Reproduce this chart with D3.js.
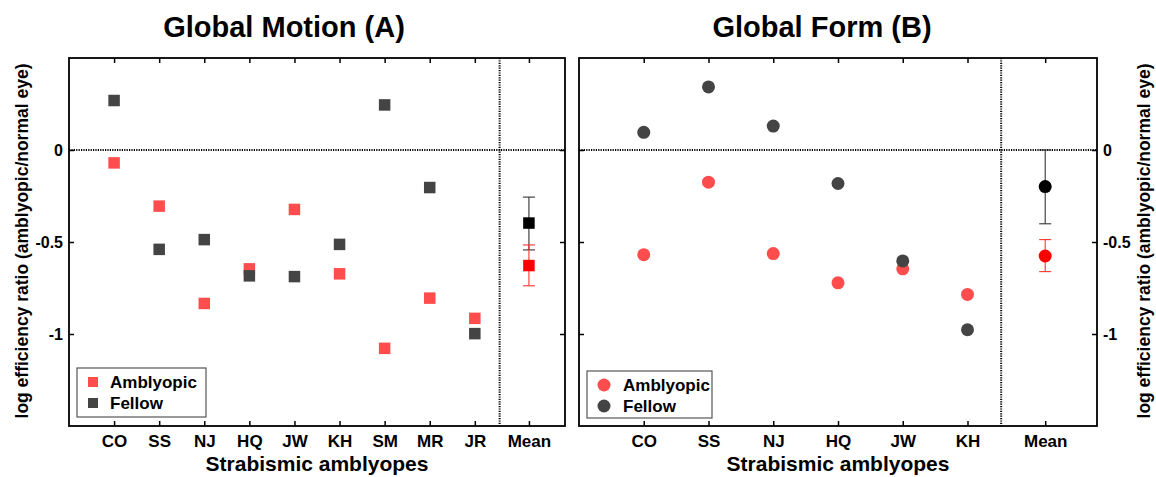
<!DOCTYPE html>
<html>
<head>
<meta charset="utf-8">
<script src="https://cdn.jsdelivr.net/npm/d3@7"></script>
<style>
  html, body { margin: 0; padding: 0; background: #fff; }
  svg { display: block; }
  text { font-family: "Liberation Sans", Arial, Helvetica, sans-serif; font-weight: bold; fill: #000; }
</style>
</head>
<body>
<svg id="chart" width="1156" height="477"></svg>
<script>
// ---------- data ----------
const motionSubjects = ["CO", "SS", "NJ", "HQ", "JW", "KH", "SM", "MR", "JR"];
const motionAmblyopic = [-0.07, -0.305, -0.834, -0.646, -0.323, -0.673, -1.078, -0.805, -0.915];
const motionFellow    = [0.269, -0.540, -0.487, -0.684, -0.688, -0.513, 0.245, -0.204, -0.998];
const motionMeanAmblyopic = { value: -0.628, lo: -0.738, hi: -0.516 };
const motionMeanFellow    = { value: -0.397, lo: -0.543, hi: -0.256 };

const formSubjects = ["CO", "SS", "NJ", "HQ", "JW", "KH"];
const formAmblyopic = [-0.569, -0.175, -0.563, -0.722, -0.646, -0.785];
const formFellow    = [0.096, 0.343, 0.130, -0.182, -0.603, -0.977];
const formMeanAmblyopic = { value: -0.576, lo: -0.661, hi: -0.487 };
const formMeanFellow    = { value: -0.199, lo: -0.401, hi: 0.0 };

const yTicks = [0, -0.5, -1];
const yTickLabels = ["0", "-0.5", "-1"];
const meanLabel = "Mean";
const legendLabels = ["Amblyopic", "Fellow"];
const titles = ["Global Motion (A)", "Global Form (B)"];
const xAxisTitle = "Strabismic amblyopes";
const yAxisTitle = "log efficiency ratio (amblyopic/normal eye)";

// ---------- style ----------
const colAmb = "#ff4d4d", colFel = "#444444";
const colMeanAmb = "#ff0000", colMeanFel = "#000000";
const FONT = "Liberation Sans, Arial, sans-serif";

const svg = d3.select("#chart");
const yScale = d3.scaleLinear().domain([-1.5, 0.5]).range([426, 58]);

function panel(opts) {
  const { subjects, amb, fel, meanAmb, meanFel, xDomain, xRange, meanPos, dividerPos,
          marker, labelSide, title, titleShift, legendBox } = opts;
  const x = d3.scaleLinear().domain(xDomain).range(xRange);
  const y = yScale;
  const g = svg.append("g");
  const [x0, x1] = xRange;
  const [yb, yt] = y.range();

  // dotted zero line and divider
  g.append("line").attr("x1", x0).attr("x2", x1).attr("y1", y(0)).attr("y2", y(0))
    .attr("stroke", "#000").attr("stroke-width", 2).attr("stroke-dasharray", "1.2,1.2");
  g.append("line").attr("x1", x(dividerPos)).attr("x2", x(dividerPos)).attr("y1", yt).attr("y2", yb)
    .attr("stroke", "#000").attr("stroke-width", 2).attr("stroke-dasharray", "1.2,1.2");

  // ticks (inward) via axes
  const idx = subjects.map((d, i) => i + 1);
  const tickVals = idx.concat([meanPos]);
  const tickFmt = v => v === meanPos ? meanLabel : subjects[v - 1];
  const bottom = g.append("g").attr("transform", `translate(0,${yb})`)
    .call(d3.axisBottom(x).tickValues(tickVals).tickFormat(tickFmt).tickSize(-5).tickPadding(9));
  const top = g.append("g").attr("transform", `translate(0,${yt})`)
    .call(d3.axisTop(x).tickValues(tickVals).tickFormat("").tickSize(-5));
  const left = g.append("g").attr("transform", `translate(${x0},0)`)
    .call(d3.axisLeft(y).tickValues(yTicks).tickFormat("").tickSize(-5));
  const right = g.append("g").attr("transform", `translate(${x1},0)`)
    .call(d3.axisRight(y).tickValues(yTicks).tickFormat("").tickSize(-5));
  [bottom, top, left, right].forEach(a => {
    a.select(".domain").remove();
    a.selectAll(".tick line").attr("stroke", "#000").attr("stroke-width", 1.5);
  });
  bottom.selectAll(".tick text").attr("font-size", 17).attr("font-family", FONT)
    .attr("font-weight", "bold").attr("fill", "#000");

  // y tick labels
  const lab = labelSide === "left"
    ? g.append("g").attr("transform", `translate(${x0},0)`).call(d3.axisLeft(y).tickValues(yTicks)
        .tickFormat((d, i) => yTickLabels[i]).tickSize(0).tickPadding(6))
    : g.append("g").attr("transform", `translate(${x1},0)`).call(d3.axisRight(y).tickValues(yTicks)
        .tickFormat((d, i) => yTickLabels[i]).tickSize(0).tickPadding(6));
  lab.select(".domain").remove();
  lab.selectAll(".tick text").attr("font-size", 16).attr("font-family", FONT)
    .attr("font-weight", "bold").attr("fill", "#000");

  // frame
  g.append("rect").attr("x", x0).attr("y", yt).attr("width", x1 - x0).attr("height", yb - yt)
    .attr("fill", "none").attr("stroke", "#000").attr("stroke-width", 1.8);

  // markers
  const S = 11.5, R = 6.5;
  function drawMarker(sel, cx, cy, color) {
    if (marker === "square") {
      sel.append("rect").attr("x", cx - S / 2).attr("y", cy - S / 2).attr("width", S).attr("height", S)
        .attr("fill", color);
    } else {
      sel.append("circle").attr("cx", cx).attr("cy", cy).attr("r", R).attr("fill", color);
    }
  }
  const pts = g.append("g");
  amb.forEach((v, i) => drawMarker(pts, x(i + 1), y(v), colAmb));
  fel.forEach((v, i) => drawMarker(pts, x(i + 1), y(v), colFel));

  // means with error bars
  function errBar(m, color, width) {
    const cx = x(meanPos);
    const eb = g.append("g").attr("stroke", color).attr("stroke-width", width);
    eb.append("line").attr("x1", cx).attr("x2", cx).attr("y1", y(m.lo)).attr("y2", y(m.hi));
    [m.lo, m.hi].forEach(v => eb.append("line").attr("x1", cx - 6).attr("x2", cx + 6)
      .attr("y1", y(v)).attr("y2", y(v)));
  }
  errBar(meanFel, "#333", 1.1);
  errBar(meanAmb, "#ff3333", 1.1);
  drawMarker(g, x(meanPos), y(meanFel.value), colMeanFel);
  drawMarker(g, x(meanPos), y(meanAmb.value), colMeanAmb);

  // legend
  const lg = g.append("g");
  lg.append("rect").attr("x", legendBox.x).attr("y", legendBox.y).attr("width", legendBox.w).attr("height", legendBox.h)
    .attr("fill", "#fff").attr("stroke", "#555").attr("stroke-width", 1.2);
  [colAmb, colFel].forEach((c, i) => {
    const cy = legendBox.y + 14 + i * 21;
    const cx = legendBox.x + (marker === "square" ? 16 : 17);
    if (marker === "square") {
      lg.append("rect").attr("x", cx - 5).attr("y", cy - 5).attr("width", 10).attr("height", 10).attr("fill", c);
    } else {
      lg.append("circle").attr("cx", cx).attr("cy", cy).attr("r", 6.5).attr("fill", c);
    }
    lg.append("text").attr("x", legendBox.x + (marker === "square" ? 33 : 36)).attr("y", cy + 6)
      .attr("font-size", 17).text(legendLabels[i]);
  });

  // titles
  g.append("text").attr("x", (x0 + x1) / 2 + titleShift).attr("y", 37)
    .attr("text-anchor", "middle").attr("font-size", 29).text(title);
  g.append("text").attr("x", (x0 + x1) / 2).attr("y", 470.5)
    .attr("text-anchor", "middle").attr("font-size", 21).text(xAxisTitle);
  return x;
}

panel({
  subjects: motionSubjects, amb: motionAmblyopic, fel: motionFellow,
  meanAmb: motionMeanAmblyopic, meanFel: motionMeanFellow,
  xDomain: [0, 11], xRange: [69, 565], meanPos: 10.2, dividerPos: 9.55,
  marker: "square", labelSide: "left", title: titles[0], titleShift: -33,
  legendBox: { x: 77, y: 368, w: 129, h: 49 }
});
panel({
  subjects: formSubjects, amb: formAmblyopic, fel: formFellow,
  meanAmb: formMeanAmblyopic, meanFel: formMeanFellow,
  xDomain: [0, 8], xRange: [579, 1097], meanPos: 7.2, dividerPos: 6.52,
  marker: "circle", labelSide: "right", title: titles[1], titleShift: -16,
  legendBox: { x: 587, y: 371, w: 125, h: 47 }
});

// y axis titles
svg.append("text").attr("transform", `translate(28,241) rotate(-90)`)
  .attr("text-anchor", "middle").attr("font-size", 17.5).text(yAxisTitle);
svg.append("text").attr("transform", `translate(1150,241) rotate(-90)`)
  .attr("text-anchor", "middle").attr("font-size", 17.5).text(yAxisTitle);
</script>
</body>
</html>
